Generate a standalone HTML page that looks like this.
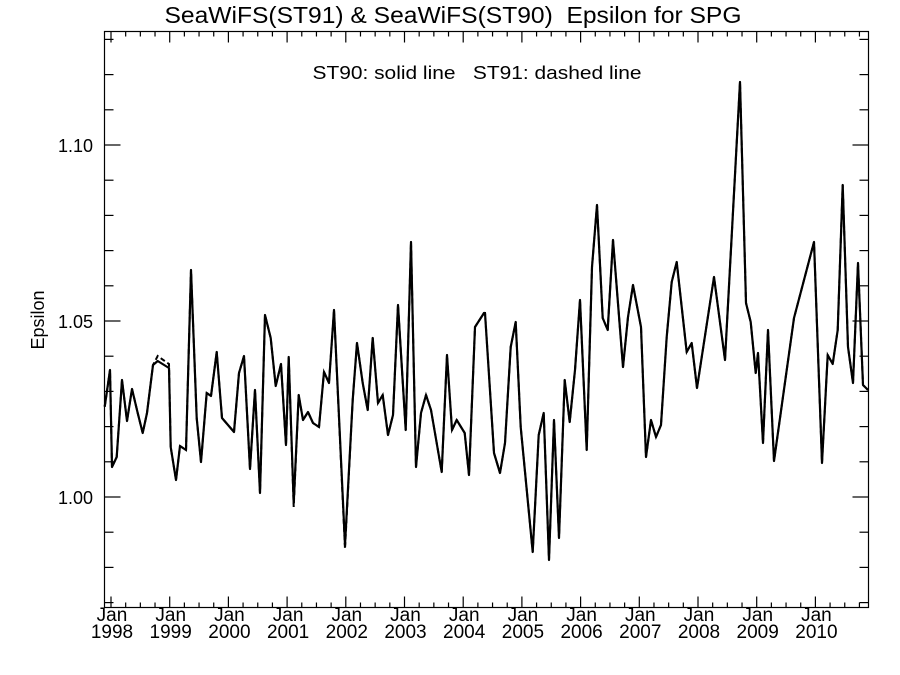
<!DOCTYPE html>
<html><head><meta charset="utf-8"><style>body{margin:0;background:#fff}svg{display:block}text{font-family:"Liberation Sans",sans-serif;fill:#000;white-space:pre}</style></head>
<body>
<svg id="sv" width="900" height="675" viewBox="0 0 900 675" xmlns="http://www.w3.org/2000/svg">
<rect width="900" height="675" fill="#fff"/>
<text x="453" y="23" font-size="23" text-anchor="middle" textLength="577" lengthAdjust="spacingAndGlyphs">SeaWiFS(ST91) &amp; SeaWiFS(ST90)  Epsilon for SPG</text>
<text x="477" y="79" font-size="18" text-anchor="middle" textLength="329" lengthAdjust="spacingAndGlyphs">ST90: solid line   ST91: dashed line</text>
<rect x="104.5" y="31.5" width="764" height="576" fill="none" stroke="#000" stroke-width="1.2"/>
<g id="ticks" stroke="#000" stroke-width="1.2"></g>
<g font-size="18" text-anchor="end">
<text x="93" y="152">1.10</text><text x="93" y="328">1.05</text><text x="93" y="504">1.00</text>
</g>
<text transform="translate(44,320) rotate(-90)" font-size="18" text-anchor="middle">Epsilon</text>
<g id="xl" font-size="19" text-anchor="middle"></g>
<polyline id="dash" fill="none" stroke="#000" stroke-width="2" stroke-dasharray="5,3"/>
<polyline id="solid" fill="none" stroke="#000" stroke-width="2.2" stroke-linejoin="round"/>
</svg>
<script>
var NS="http://www.w3.org/2000/svg";
function el(parent,tag,attrs,txt){var e=document.createElementNS(NS,tag);for(var k in attrs)e.setAttribute(k,attrs[k]);if(txt)e.textContent=txt;parent.appendChild(e);return e;}
var P=[[104.7,406.7],[106.7,393],[110,370],[112,467],[116.7,457],[122,380],[127,421],[132,389],[137.7,413],[142.7,433],[147,413],[153,365],[157.7,361],[169,368],[170.7,447],[176,480],[180,446],[186,450],[191,270],[196.7,418],[201,462],[206.7,393],[211,396],[216.7,352],[222,418],[234,432],[239,373],[244,356],[250,469],[255,390],[260,493],[265,315],[270.7,338],[275.7,386],[281,364],[286,445],[288.7,357],[293.7,503],[298.7,395],[303,420],[308,412],[313,423],[319,427],[324,372],[329,383],[334,310],[345,545],[352.7,400],[357,343],[362.7,383],[367.7,410],[372.7,338],[378,403],[382.7,395],[388,435],[393,415],[398,305],[405.7,430],[411,242],[416,467],[421,413],[426,395],[431,410],[441.7,472],[447,355],[452,430],[456.7,420],[464.7,433],[469,475],[475,327],[484,313],[485,313],[494,453],[500,473],[505,443],[510.7,347],[515.7,322],[520.7,427],[532.7,552],[538.7,435],[543.7,413],[549,560],[554,420],[559,538],[564.7,380],[569.7,422],[575,370],[580,300],[586.7,450],[592,267],[597,205],[602.7,318],[607.7,330],[613,240],[623,367],[628,317],[633,285],[641,327],[646,457],[651,420],[656,437],[661,425],[666.7,337],[671.7,282],[676.7,262],[686.7,352],[691.7,343],[697,388],[714,277],[725,360],[740,82],[746,303],[750.7,322],[755.7,373],[758,353],[763,443],[768,330],[774,461],[794,318],[814,242],[822,463],[827.7,355],[832.7,364],[837.7,330],[842.7,185],[848,347],[853,383],[858,263],[863,385],[868,390]];
document.getElementById('solid').setAttribute('points',P.map(function(p){return p.join(',');}).join(' '));
var D=P.map(function(p){return [p[0],p[1]];});
D[12][1]=356;D[13][1]=364;D[46][1]=549;D[37][1]=507;
document.getElementById('dash').setAttribute('points',D.map(function(p){return p.join(',');}).join(' '));
var g=document.getElementById('ticks');
for(var k=0;k<=16;k++){var v=0.97+k*0.01;var y=497-(v-1)*3520;var maj=(k%5==3);var L=maj?16:9;
el(g,'line',{x1:104.5,x2:104.5+L,y1:y,y2:y});el(g,'line',{x1:868.5,x2:868.5-L,y1:y,y2:y});}
var xl=document.getElementById('xl');
for(var m=0;m<=153;m+=3){var x=111+m*58.7/12;var maj=m%12==0;var L=maj?11:5;
el(g,'line',{x1:x,x2:x,y1:607.5,y2:607.5-L});el(g,'line',{x1:x,x2:x,y1:31.5,y2:31.5+L});
if(maj){el(xl,'text',{x:x+1,y:621},'Jan');el(xl,'text',{x:x+1,y:638},String(1998+m/12));}}
</script>
</svg>
</body></html>
